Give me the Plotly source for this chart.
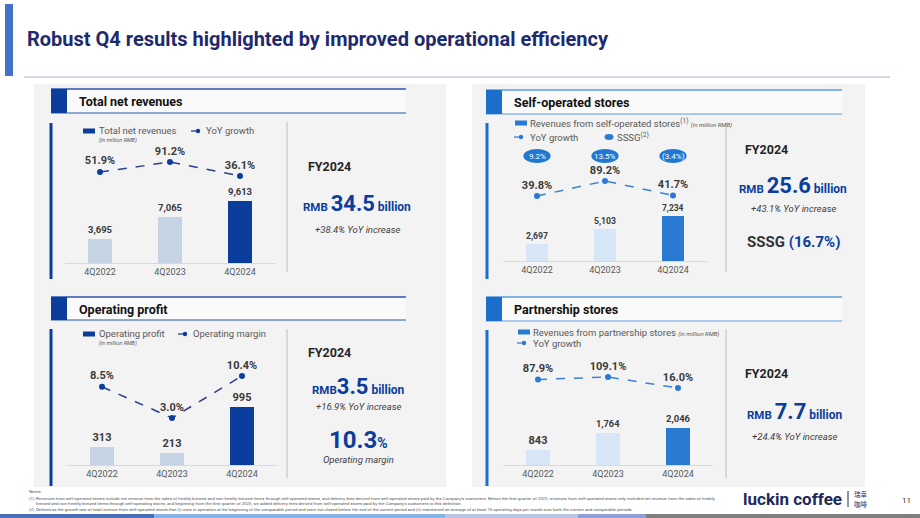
import plotly.graph_objects as go

W, H = 920, 518
def X(px): return px / W
def Y(py): return 1 - py / H

# ---------------- data ----------------
quarters = ["4Q2022", "4Q2023", "4Q2024"]
total_rev = [3695, 7065, 9613]
total_rev_yoy = [51.9, 91.2, 36.1]
self_rev = [2697, 5103, 7234]
self_rev_yoy = [39.8, 89.2, 41.7]
sssg_labels = ["9.2%", "13.5%", "(3.4%)"]
op_profit = [313, 213, 995]
op_margin = [8.5, 3.0, 10.4]
partner_rev = [843, 1764, 2046]
partner_rev_yoy = [87.9, 109.1, 16.0]

FONT = "Roboto"
NARROW = "Roboto"
DARK = "#0A3D9C"
MID = "#2A7AD3"
NAVY = "#1F2A6E"

fig = go.Figure()
shapes = []
anns = []

def rect(x0, y0, x1, y1, fill, layer="below", line_color=None, lw=0):
    shapes.append(dict(type="rect", xref="paper", yref="paper", x0=X(x0), x1=X(x1),
                       y0=Y(y0), y1=Y(y1), fillcolor=fill, layer=layer,
                       line=dict(width=lw, color=line_color or fill)))

def seg(x0, y0, x1, y1, color, width=1, dash="solid", layer="above"):
    shapes.append(dict(type="line", xref="paper", yref="paper", x0=X(x0), x1=X(x1),
                       y0=Y(y0), y1=Y(y1), layer=layer,
                       line=dict(color=color, width=width, dash=dash)))

def dot(cx, cy, rx, ry, color):
    shapes.append(dict(type="circle", xref="paper", yref="paper", x0=X(cx - rx), x1=X(cx + rx),
                       y0=Y(cy + ry), y1=Y(cy - ry), fillcolor=color, line=dict(width=0), layer="above"))

def txt(s, px, py, size, color="#333333", bold=False, italic=False, anchor="left", family=FONT):
    f = dict(size=size, color=color, family=family)
    if bold:
        f["weight"] = "bold"
    if italic:
        f["style"] = "italic"
    anns.append(dict(text=s, x=X(px), y=Y(py), xref="paper", yref="paper", xanchor=anchor,
                     yanchor="middle", showarrow=False, font=f))

# ---------------- slide chrome ----------------
rect(5, 4, 13, 76, "#4472C4")
txt("Robust Q4 results highlighted by improved operational efficiency", 25, 39, 20, NAVY, bold=True, family=NARROW)
seg(24, 77, 890, 77, "#C5CEDD", 1.5)

# panel backgrounds
rect(34, 84, 446, 487, "#F3F3F3")
rect(472, 84, 865, 487, "#F3F3F3")

# bottom stripe
for x0, x1, c in [(0, 154, "#4A6DB8"), (154, 445, "#86B4E8"), (445, 578, "#BAC4E4"),
                  (578, 646, "#8F9ED7"), (646, 920, "#7F7F7F")]:
    rect(x0, 514, x1, 518, c, layer="above")

# ---------------- panels ----------------
panels = [
    dict(k=1, title="Total net revenues", bars=total_rev, line=total_rev_yoy, dark=True,
         left=65, right=275, top=123, base=263, barpx=62, ltop=162, lbot=176,
         hx0=51, hy0=89, hy1=113, vx=51, vy0=123, vy1=279, div=287, dy0=122, dy1=272),
    dict(k=2, title="Self-operated stores", bars=self_rev, line=self_rev_yoy, dark=False,
         left=503, right=707, top=123, base=261, barpx=45, ltop=181, lbot=196,
         hx0=486, hy0=90, hy1=114, vx=487, vy0=123, vy1=279, div=726, dy0=122, dy1=272),
    dict(k=3, title="Operating profit", bars=op_profit, line=op_margin, dark=True,
         left=67, right=277, top=329, base=465, barpx=58, ltop=376, lbot=418,
         hx0=51, hy0=297, hy1=320, vx=51, vy0=329, vy1=486, div=287, dy0=329, dy1=478),
    dict(k=4, title="Partnership stores", bars=partner_rev, line=partner_rev_yoy, dark=False,
         left=503, right=713, top=330, base=465, barpx=37, ltop=377, lbot=388,
         hx0=486, hy0=297, hy1=321, vx=487, vy0=330, vy1=486, div=726, dy0=329, dy1=478),
]

def xname(n): return "x" if n == 1 else f"x{n}"
def yname(n): return "y" if n == 1 else f"y{n}"
def xkey(n): return "xaxis" if n == 1 else f"xaxis{n}"
def ykey(n): return "yaxis" if n == 1 else f"yaxis{n}"

layout_axes = {}
for p in panels:
    k = p["k"]
    yb, yl = 2 * k - 1, 2 * k
    main = DARK if p["dark"] else MID
    light = "#C6D3E5" if p["dark"] else "#D6E6F6"
    headline = "#2A56B0" if p["dark"] else "#5A9BE0"
    sq = DARK if p["dark"] else "#1B6FCB"

    # header
    hr = 406 if p["dark"] else 842
    rect(p["hx0"] + 16, p["hy0"], hr, p["hy1"], "#FAFAFA")
    seg(p["hx0"], p["hy0"], hr, p["hy0"], headline, 1.5)
    seg(p["hx0"], p["hy1"], hr, p["hy1"], headline, 1.2)
    rect(p["hx0"], p["hy0"], p["hx0"] + 16, p["hy1"], sq, layer="above")
    txt(p["title"], p["hx0"] + 26, (p["hy0"] + p["hy1"]) / 2 + 0.5, 12.5, "#111111", bold=True)
    # left vertical bar and divider
    rect(p["vx"] - 1.5, p["vy0"], p["vx"] + 1.5, p["vy1"], sq, layer="above")
    seg(p["div"], p["dy0"], p["div"], p["dy1"], "#CFCFCF", 1.5)

    # axes
    h = p["base"] - p["top"]
    bmax = max(p["bars"])
    bar_range = [0, h * bmax / p["barpx"]]
    lmax, lmin = max(p["line"]), min(p["line"])
    m = (p["lbot"] - p["ltop"]) / (lmax - lmin)  # px per unit
    lo = lmin - (p["base"] - p["lbot"]) / m
    hi = lmax + (p["ltop"] - p["top"]) / m

    layout_axes[xkey(k)] = dict(domain=[X(p["left"]), X(p["right"])], range=[-0.5, 2.5],
                                anchor=yname(yb), showgrid=False, zeroline=False, showline=True,
                                linecolor="#D9D9D9", linewidth=1, ticks="", fixedrange=True,
                                tickfont=dict(size=9, color="#595959", family=FONT))
    layout_axes[ykey(yb)] = dict(domain=[Y(p["base"]), Y(p["top"])], range=bar_range,
                                 anchor=xname(k), visible=False, fixedrange=True)
    layout_axes[ykey(yl)] = dict(overlaying=yname(yb), range=[lo, hi], anchor=xname(k),
                                 visible=False, fixedrange=True)

    fig.add_trace(go.Bar(x=quarters, y=p["bars"], xaxis=xname(k), yaxis=yname(yb),
                         marker=dict(color=[light, light, main], line=dict(width=0)), width=0.33,
                         text=[f"{v:,}" for v in p["bars"]], textposition="outside",
                         textfont=dict(size=11, color="#3A3A3A", family=FONT, weight="bold"),
                         cliponaxis=False, showlegend=False, hoverinfo="skip"))
    lcol = "#2E3E8C" if p["dark"] else "#3B82D6"
    fig.add_trace(go.Scatter(x=quarters, y=p["line"], xaxis=xname(k), yaxis=yname(yl),
                             mode="lines+markers+text",
                             line=dict(color=lcol, width=1.5, dash="dash"),
                             marker=dict(size=6, color=main),
                             text=[f"{v:.1f}%" for v in p["line"]], textposition="top center",
                             textfont=dict(size=11, color="#3A3A3A", family=FONT, weight="bold"),
                             cliponaxis=False, showlegend=False, hoverinfo="skip"))

# ---------------- legends ----------------
def leg_rect(x, y, color):
    rect(x, y - 2.5, x + 12, y + 2.5, color, layer="above")

def leg_line(x, y, color, dotc):
    seg(x, y, x + 12, y, color, 1.3, "dash")
    dot(x + 7, y, 2.2, 2.2, dotc)

GRAY = "#595959"
# panel 1
leg_rect(83, 131, DARK)
txt("Total net revenues", 97, 130.5, 9.5, GRAY)
txt("(in million RMB)", 97, 140, 5.5, GRAY, italic=True)
leg_line(191, 131, "#2E3E8C", DARK)
txt("YoY growth", 204, 130.5, 9.5, GRAY)
# panel 3
leg_rect(83, 334, DARK)
txt("Operating profit", 97, 333.5, 9.5, GRAY)
txt("(in million RMB)", 97, 343.5, 5.5, GRAY, italic=True)
leg_line(178, 334, "#2E3E8C", DARK)
txt("Operating margin", 191, 333.5, 9.5, GRAY)
# panel 2
leg_rect(515, 123, MID)
txt("Revenues from self-operated stores<sup>(1)</sup> <i><span style='font-size:6px'>(in million RMB)</span></i>",
    528, 123, 9.5, GRAY)
leg_line(514, 137, "#3B82D6", MID)
txt("YoY growth", 528, 137, 9.5, GRAY)
dot(609, 137, 4.5, 3, MID)
txt("SSSG<sup>(2)</sup>", 615, 137, 9.5, GRAY)
# panel 4
leg_rect(518, 332, MID)
txt("Revenues from partnership stores <i><span style='font-size:6px'>(in million RMB)</span></i>",
    531, 332, 9.5, GRAY)
leg_line(517, 343, "#3B82D6", MID)
txt("YoY growth", 531, 343, 9.5, GRAY)

# SSSG ellipses (on panel 2 category axis)
for i, s in enumerate(sssg_labels):
    shapes.append(dict(type="circle", xref="x2", yref="paper", x0=i - 0.2, x1=i + 0.2,
                       y0=Y(163), y1=Y(149), fillcolor="#1F78D1", line=dict(width=0), layer="above"))
    anns.append(dict(text=s, x=i, xref="x2", y=Y(156), yref="paper", showarrow=False,
                     xanchor="center", yanchor="middle",
                     font=dict(size=8, color="#FFFFFF", family=FONT)))

# ---------------- KPI texts ----------------
BLUE_T = "#0A3D9C"
def big(num, unit_pre, unit_post, cx, cy, numsize=22):
    s = (f"<b><span style='font-size:11.5px'>{unit_pre}</span>"
         f"<span style='font-size:{numsize}px'>{num}</span>"
         f"<span style='font-size:12px'>{unit_post}</span></b>")
    txt(s, cx, cy, numsize, BLUE_T, anchor="center")

txt("FY2024", 306, 166, 12.5, "#262626", bold=True)
big("34.5", "RMB ", " billion", 357, 203)
txt("+38.4% YoY increase", 357, 229, 9.5, "#404040", italic=True, anchor="center")

txt("FY2024", 743, 149, 12.5, "#262626", bold=True)
big("25.6", "RMB ", " billion", 793, 186)
txt("+43.1% YoY increase", 793, 208, 9.5, "#404040", italic=True, anchor="center")
txt("<b><span style='color:#333333'>SSSG</span> (16.7%)</b>", 793, 242, 15, BLUE_T, anchor="center")

txt("FY2024", 306, 352, 12.5, "#262626", bold=True)
big("3.5", "RMB", " billion", 358, 386)
txt("+16.9% YoY increase", 358, 406, 9.5, "#404040", italic=True, anchor="center")
txt("<b><span style='font-size:24px'>10.3</span><span style='font-size:14px'>%</span></b>",
    358, 440, 24, BLUE_T, anchor="center")
txt("Operating margin", 358, 459, 9.5, "#404040", italic=True, anchor="center")

txt("FY2024", 743, 373, 12.5, "#262626", bold=True)
big("7.7", "RMB ", " billion", 794, 411)
txt("+24.4% YoY increase", 794, 436, 9.5, "#404040", italic=True, anchor="center")

# ---------------- footer ----------------
NOTE_C = "#555555"
NS = 4.35
txt("Notes:", 27, 491, NS, NOTE_C, family=NARROW)
txt("(1)", 27, 498, NS, NOTE_C, family=NARROW)
txt("Revenues from self-operated stores include net revenue from the sales of freshly brewed and non-freshly brewed items through self-operated stores, and delivery fees derived from self-operated stores paid by the Company's customers. Before the first quarter of 2023, revenues from self-operated stores only included net revenue from the sales of freshly",
    34, 498, NS, NOTE_C, family=NARROW)
txt("brewed and non-freshly brewed items through self-operating stores, and beginning from the first quarter of 2023, we added delivery fees derived from self-operated stores paid by the Company's customers to this definition.",
    34, 503.5, NS, NOTE_C, family=NARROW)
txt("(2)", 27, 509, NS, NOTE_C, family=NARROW)
txt("Defined as the growth rate of total revenue from self-operated stores that (i) were in operation at the beginning of the comparable period and were not closed before the end of the current period and (ii) maintained an average of at least 15 operating days per month over both the current and comparable periods.",
    34, 509, NS, NOTE_C, family=NARROW)

txt("luckin coffee", 741, 498.5, 17, "#1D2A5C", bold=True, family=NARROW)
seg(848, 491, 848, 507, "#1D2A5C", 1)
txt("瑞幸", 852, 494, 6.5, "#1D2A5C", family="Noto Sans CJK SC")
txt("咖啡", 852, 504, 6.5, "#1D2A5C", family="Noto Sans CJK SC")
txt("11", 900, 500, 8, "#333333")

fig.update_layout(width=W, height=H, margin=dict(l=0, r=0, t=0, b=0),
                  paper_bgcolor="#FFFFFF", plot_bgcolor="rgba(0,0,0,0)",
                  showlegend=False, shapes=shapes, annotations=anns, bargap=0,
                  font=dict(family=FONT), **layout_axes)

fig.write_html("out.html")
